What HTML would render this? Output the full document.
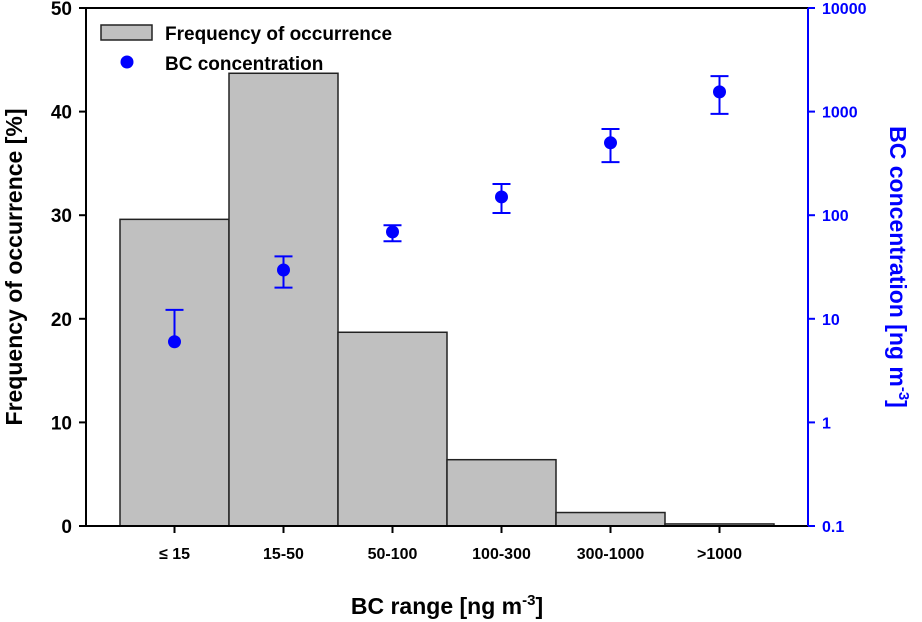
<!DOCTYPE html>
<html><head><meta charset="utf-8"><style>
body{margin:0;background:#fff;}
svg{display:block;font-family:"Liberation Sans",Arial,sans-serif;font-weight:bold;}
</style></head><body>
<svg id="c" width="922" height="622"></svg>
<script>
const categories=["≤ 15","15-50","50-100","100-300","300-1000",">1000"];
const freqValues=[29.6,43.7,18.7,6.4,1.3,0.2];
const bcValues=[6.0,29.6,69,150,500,1550];
const bcUpper=[12.2,40,80,200,680,2200];
const bcLower=[6.0,20,56,105,325,950];
const leftTicks=[0,10,20,30,40,50];
const rightTicks=[0.1,1,10,100,1000,10000];
const rightTickLabels=["0.1","1","10","100","1000","10000"];

const NS="http://www.w3.org/2000/svg";
const svg=document.getElementById('c');
const L=86,R=808,T=8,B=526;
const yL=v=>B-(v/50)*(B-T);
const yR=v=>B-(Math.log10(v)+1)/5*(B-T);
const bw=109;
const xC=i=>174.5+i*bw;
function el(tag,attrs,parent){const e=document.createElementNS(NS,tag);for(const k in attrs)e.setAttribute(k,attrs[k]);(parent||svg).appendChild(e);return e;}

freqValues.forEach((v,i)=>{
 const r=el('rect',{x:xC(i)-bw/2,y:yL(v),width:bw,height:B-yL(v),fill:'#c0c0c0',stroke:'#222','stroke-width':1.5});
 
 
});
const ax=el('g',{});


el('line',{x1:L,y1:T,x2:R,y2:T,stroke:'#000','stroke-width':2},ax);
el('line',{x1:L,y1:B,x2:R,y2:B,stroke:'#000','stroke-width':2},ax);
el('line',{x1:L,y1:T,x2:L,y2:B,stroke:'#000','stroke-width':2},ax);
el('line',{x1:R,y1:T,x2:R,y2:B,stroke:'#00f','stroke-width':2},ax);
leftTicks.forEach(t=>{
 el('line',{x1:L-7,y1:yL(t),x2:L,y2:yL(t),stroke:'#000','stroke-width':2},ax);
 const tx=el('text',{x:L-14,y:yL(t)+7,'text-anchor':'end','font-size':19,fill:'#000'},ax);tx.textContent=t;
 
 
});
rightTicks.forEach((t,i)=>{
 el('line',{x1:R,y1:yR(t),x2:R+7,y2:yR(t),stroke:'#00f','stroke-width':2},ax);
 const tx=el('text',{x:R+14,y:yR(t)+6,'font-size':16,fill:'#00f'},ax);tx.textContent=rightTickLabels[i];
 
 
});
categories.forEach((c,i)=>{
 el('line',{x1:xC(i),y1:B,x2:xC(i),y2:B+7,stroke:'#000','stroke-width':2},ax);
 const tx=el('text',{x:xC(i),y:B+33,'text-anchor':'middle','font-size':16,fill:'#000'},ax);tx.textContent=c;
 
 
});
bcValues.forEach((v,i)=>{
 const g=el('g',{});
 
 
 const x=xC(i);
 el('line',{x1:x,y1:yR(bcUpper[i]),x2:x,y2:yR(bcLower[i]),stroke:'#00f','stroke-width':2},g);
 el('line',{x1:x-9,y1:yR(bcUpper[i]),x2:x+9,y2:yR(bcUpper[i]),stroke:'#00f','stroke-width':2},g);
 if(bcLower[i]<v) el('line',{x1:x-9,y1:yR(bcLower[i]),x2:x+9,y2:yR(bcLower[i]),stroke:'#00f','stroke-width':2},g);
 el('circle',{cx:x,cy:yR(v),r:6.5,fill:'#00f'},g);
});
</script>
<script>
(function(){
const svg=document.getElementById('c');const NS="http://www.w3.org/2000/svg";
function el(tag,attrs){const e=document.createElementNS(NS,tag);for(const k in attrs)e.setAttribute(k,attrs[k]);svg.appendChild(e);return e;}
const lg=el('rect',{x:101,y:25,width:51,height:15,fill:'#c0c0c0',stroke:'#222','stroke-width':1.5});


const t1=el('text',{x:165,y:40,'font-size':19});t1.textContent='Frequency of occurrence';


const lc=el('circle',{cx:127,cy:62,r:6.5,fill:'#00f'});


const t2=el('text',{x:165,y:70,'font-size':19});t2.textContent='BC concentration';


const yt=el('text',{transform:'translate(22,267) rotate(-90)','text-anchor':'middle','font-size':23});yt.textContent='Frequency of occurrence [%]';


const yr=el('text',{transform:'translate(890,267) rotate(90)','text-anchor':'middle','font-size':23,fill:'#00f'});
yr.innerHTML='BC concentration [ng m<tspan dy="-9" font-size="15">-3</tspan><tspan dy="9">]</tspan>';


const xt=el('text',{x:447,y:614,'text-anchor':'middle','font-size':23});
xt.innerHTML='BC range [ng m<tspan dy="-9" font-size="15">-3</tspan><tspan dy="9">]</tspan>';


})();
</script>
</body></html>
